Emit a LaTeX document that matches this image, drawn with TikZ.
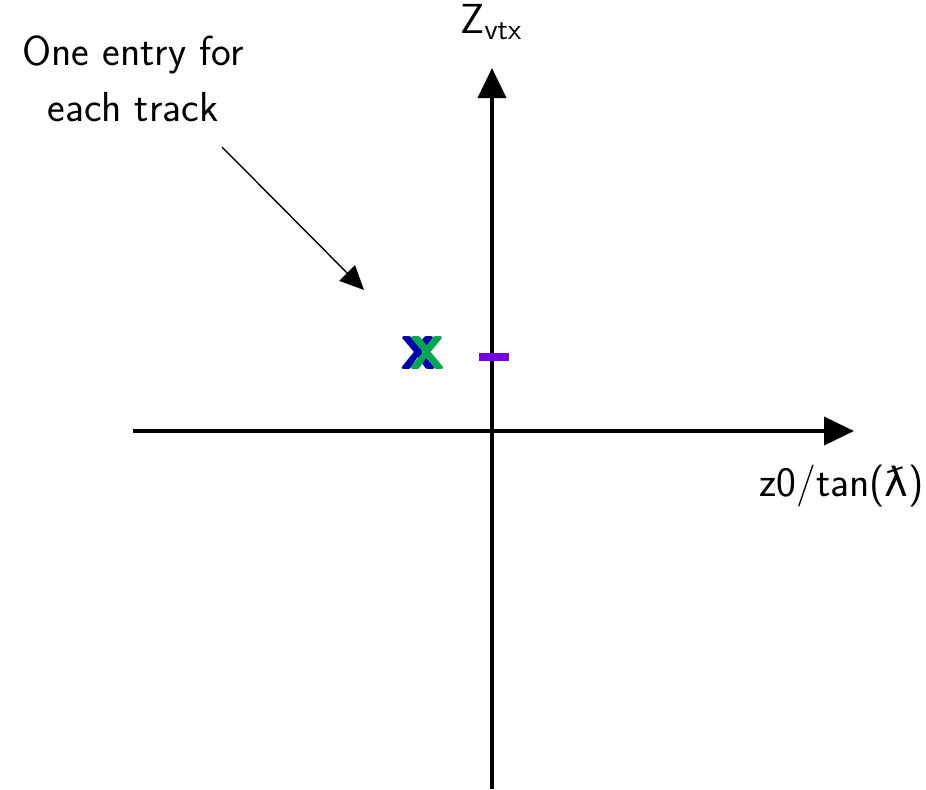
\documentclass[tikz,border=0pt]{standalone}
\usepackage{fontspec}
\newfontfamily\lambdafont{DejaVu Sans}
\usetikzlibrary{arrows.meta}

\begin{document}
\begin{tikzpicture}[x=0.5pt,y=-0.5pt,
	label/.style={font=\sffamily\fontsize{21}{24}\selectfont, inner sep=0pt},
	axis/.style={line width=2pt, -{Triangle[length=15pt,width=14pt]}},
	pointer/.style={line width=0.7pt, -{Triangle[length=12pt,width=11pt]}},
	entry/.style={font=\sffamily\bfseries\fontsize{36}{36}\selectfont, inner sep=0pt}]
	\definecolor{color1}{rgb}{0., 0., 0.67}
	\definecolor{color2}{rgb}{0., 0.65, 0.33}
	\definecolor{color3}{rgb}{0.45, 0., 0.9}
	\useasboundingbox (0,0) rectangle (926,789);
	%% Axes ------
	\coordinate (xmin) at (133,431);
	\coordinate (xmax) at (854,431);
	\coordinate (ymin) at (492,789);
	\coordinate (ymax) at (492,68);
	\draw[axis] (xmin) -- (xmax);
	\draw[axis] (ymin) -- (ymax);
	\node[label, anchor=base west] (zvtx) at (460,33) {Z\textsubscript{vtx}};
	\node[label, anchor=base west] (ratio) at (759,496) {z0/tan({\lambdafont\fontsize{20}{24}\selectfont ƛ})};
	%% Entries ---------
	\node[entry, text=color1] (trk1) at (418,353) {x};
	\node[entry, text=color2] (trk2) at (427,353) {x};
	\draw[color3, line width=4pt] (479,357) -- (509,357);
	%% Note ---------
	\node[label, align=center, anchor=base] (note) at (133,121) {One entry for\\[4pt]each track};
	\coordinate (tail) at (222,147);
	\coordinate (head) at (364,290);
	\draw[pointer] (tail) -- (head);
\end{tikzpicture}
\end{document}
